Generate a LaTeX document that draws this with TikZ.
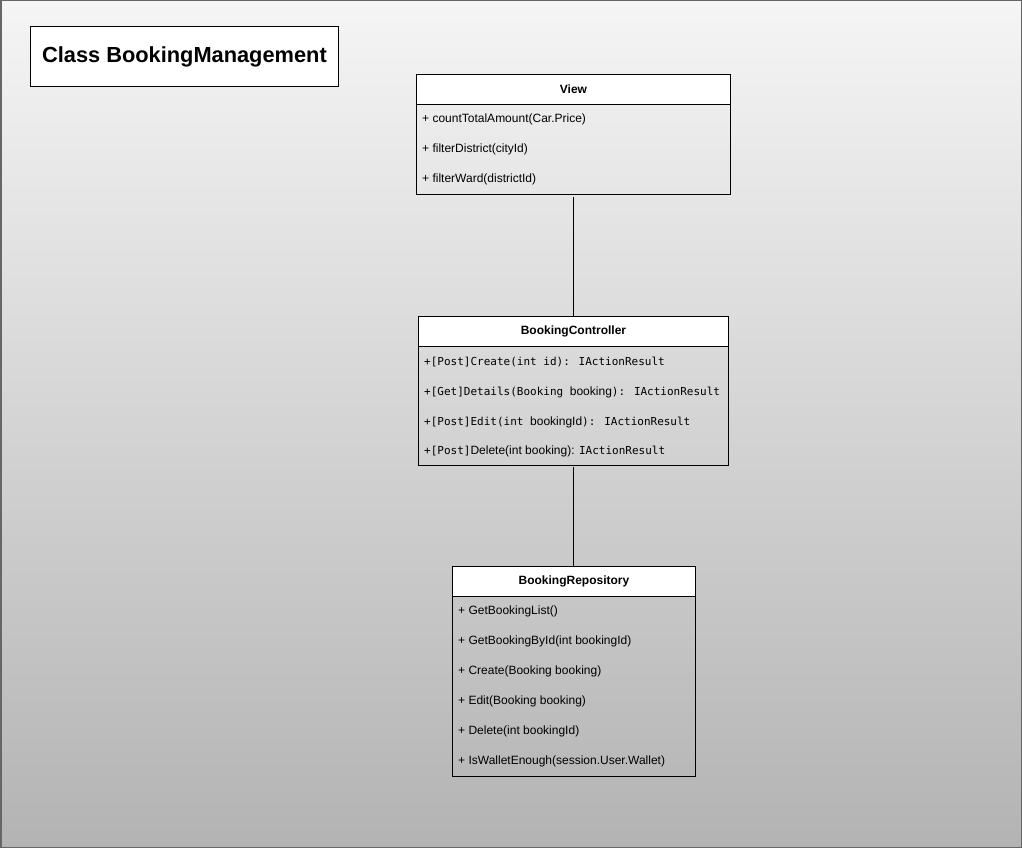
\documentclass[tikz,border=0pt]{standalone}
\usepackage{fontspec}
\setmainfont{Liberation Sans}
\newfontfamily\monof{DejaVu Sans Mono}
\definecolor{bgtop}{RGB}{245,245,245}
\definecolor{bgbot}{RGB}{179,179,179}
\definecolor{frame}{RGB}{102,102,102}
\newcommand{\mtxt}[1]{{\monof\fontsize{11}{14}\selectfont #1}}
\begin{document}
\begin{tikzpicture}[x=1pt,y=-1pt,
  hdr/.style={draw=black, line width=0.9pt, fill=white, anchor=north west, inner sep=0pt, font=\fontsize{12}{14}\selectfont\bfseries},
  bodybox/.style={draw=black, line width=0.9pt, anchor=north west, inner sep=0pt},
  row/.style={anchor=west, inner sep=0pt, font=\fontsize{12}{14}\selectfont},
  conn/.style={draw=black, line width=0.9pt}]
\useasboundingbox (0,0) rectangle (1022,848);
\shade[top color=bgtop, bottom color=bgbot, draw=frame, line width=1.5pt] (0.75,0.75) rectangle (1021.25,847.25);
% title
\node[draw=black, line width=0.9pt, fill=white, anchor=north west, minimum width=308pt, minimum height=60pt, inner sep=0pt,
  font=\fontsize{21.8}{26}\selectfont\bfseries] (title) at (30,26) {Class BookingManagement};
% View
\node[hdr, minimum width=314pt, minimum height=30pt] (viewh) at (416,74) {View};
\node[bodybox, minimum width=314pt, minimum height=90pt] (viewb) at (416,104) {};
\node[row] (v1) at (422,119.5) {+ countTotalAmount(Car.Price)};
\node[row] (v2) at (422,149.5) {+ filterDistrict(cityId)};
\node[row] (v3) at (422,179.5) {+ filterWard(districtId)};
% BookingController
\node[hdr, minimum width=310pt, minimum height=30pt] (ctrlh) at (418,316) {BookingController};
\node[bodybox, minimum width=310pt, minimum height=119pt] (ctrlb) at (418,346) {};
\node[row] (c1) at (424,362) {\mtxt{+[Post]Create(int id): IActionResult}};
\node[row] (c2) at (424,392) {\mtxt{+[Get]Details(Booking }booking\mtxt{): IActionResult}};
\node[row] (c3) at (424,422) {\mtxt{+[Post]Edit(int }bookingId\mtxt{): IActionResult}};
\node[row] (c4) at (424,451) {\mtxt{+[Post]}Delete(int booking): \mtxt{IActionResult}};
% BookingRepository
\node[hdr, minimum width=243pt, minimum height=30pt] (repoh) at (452,566) {BookingRepository};
\node[bodybox, minimum width=243pt, minimum height=180pt] (repob) at (452,596) {};
\node[row] (r1) at (458,611.5) {+ GetBookingList()};
\node[row] (r2) at (458,641.5) {+ GetBookingById(int bookingId)};
\node[row] (r3) at (458,671.5) {+ Create(Booking booking)};
\node[row] (r4) at (458,701.5) {+ Edit(Booking booking)};
\node[row] (r5) at (458,731.5) {+ Delete(int bookingId)};
\node[row] (r6) at (458,761.5) {+ IsWalletEnough(session.User.Wallet)};
% connectors
\draw[conn] ([yshift=-2pt]viewb.south) -- (ctrlh.north);
\draw[conn] ([yshift=-1pt]ctrlb.south) -- (ctrlb.south |- repoh.north);
\end{tikzpicture}
\end{document}
